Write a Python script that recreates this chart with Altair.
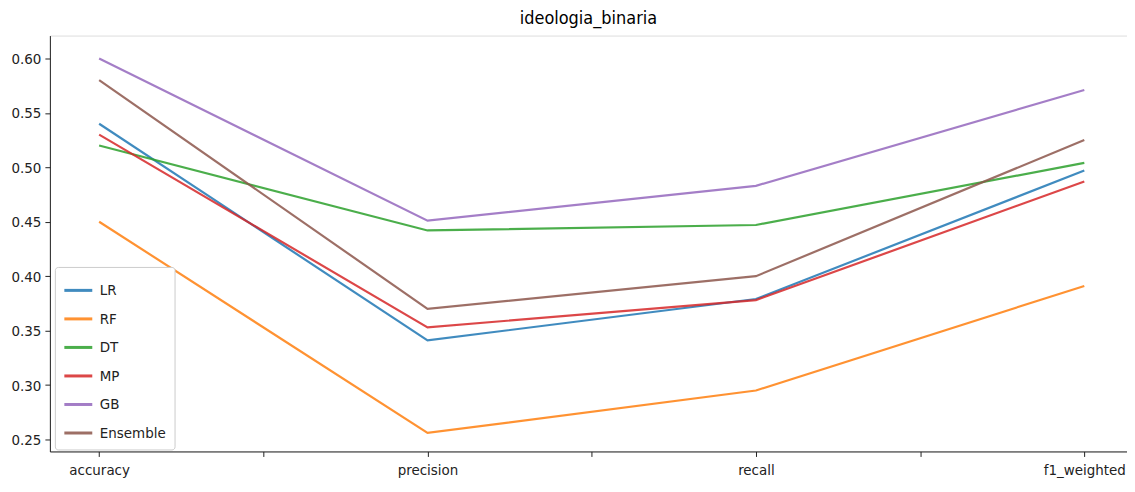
import json
import altair as alt
import pandas as pd

metrics = ["accuracy", "precision", "recall", "f1_weighted"]
models = ["LR", "RF", "DT", "MP", "GB", "Ensemble"]
colors = ["#1f77b4", "#ff7f0e", "#2ca02c", "#d62728", "#9467bd", "#8c564b"]

LR = [0.540, 0.341, 0.379, 0.497]
RF = [0.450, 0.256, 0.295, 0.391]
DT = [0.520, 0.442, 0.447, 0.504]
MP = [0.530, 0.353, 0.378, 0.487]
GB = [0.600, 0.451, 0.483, 0.571]
Ensemble = [0.580, 0.370, 0.400, 0.525]

series = {"LR": LR, "RF": RF, "DT": DT, "MP": MP, "GB": GB, "Ensemble": Ensemble}

rows = []
for m in models:
    for i, v in enumerate(series[m]):
        rows.append({"model": m, "idx": i, "metric": metrics[i], "value": v})
df = pd.DataFrame(rows)

FONT = "DejaVu Sans Condensed, DejaVu Sans"
label_expr = "datum.value % 1 == 0 ? " + json.dumps(metrics) + "[datum.value] : ''"

chart = (
    alt.Chart(df, title=alt.TitleParams("ideologia_binaria", fontSize=18, fontWeight="normal",
                                        font=FONT, color="#000", offset=8))
    .mark_line(strokeWidth=2.2, opacity=0.85)
    .encode(
        x=alt.X("idx:Q",
                scale=alt.Scale(domain=[-0.15, 3.13], nice=False, zero=False),
                axis=alt.Axis(title=None, values=[0, 0.5, 1, 1.5, 2, 2.5, 3],
                              labelExpr=label_expr, grid=False, tickSize=5,
                              labelFontSize=15, labelPadding=6, labelFont=FONT,
                              labelColor="#222", domainColor="#222", tickColor="#222")),
        y=alt.Y("value:Q",
                scale=alt.Scale(domain=[0.239, 0.621], nice=False, zero=False),
                axis=alt.Axis(title=None, values=[0.25, 0.30, 0.35, 0.40, 0.45, 0.50, 0.55, 0.60],
                              format=".2f", grid=False, tickSize=5, labelFontSize=15,
                              labelPadding=4, labelFont=FONT,
                              labelColor="#222", domainColor="#222", tickColor="#222")),
        color=alt.Color("model:N",
                        scale=alt.Scale(domain=models, range=colors),
                        legend=alt.Legend(title=None, orient="none", legendX=5, legendY=232,
                                          symbolType="stroke", symbolSize=784,
                                          symbolStrokeWidth=3, labelFontSize=15,
                                          labelFont=FONT, labelColor="#222",
                                          rowPadding=4.6, padding=8, labelOffset=6,
                                          strokeColor="#ccc", fillColor="white",
                                          cornerRadius=3, symbolOpacity=0.85)),
        detail="model:N",
    )
    .properties(width=1080, height=417, autosize=alt.AutoSizeParams(type="none"),
                padding={"left": 42, "top": 27, "right": 0, "bottom": 32})
    .configure_view(stroke="#222", strokeWidth=1)
    .configure(background="white")
)

chart.save("out.html", embed_options={"renderer": "svg", "actions": False})
